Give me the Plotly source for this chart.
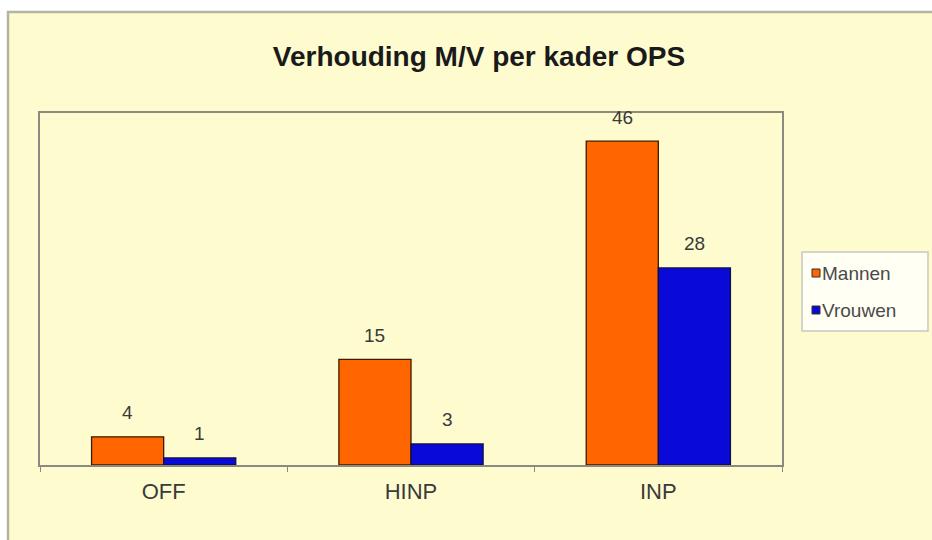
import plotly.graph_objects as go

categories = ["OFF", "HINP", "INP"]
mannen = [4, 15, 46]
vrouwen = [1, 3, 28]
series_names = ["Mannen", "Vrouwen"]
title_text = "Verhouding M/V per kader OPS"

ORANGE = "#FF6600"
BLUE = "#0A0AD8"
BG = "#FEFCCF"
FONT = "Liberation Sans"

W, H = 932, 540
L, R, T, B = 40, 150, 113, 75
pw, ph = W - L - R, H - T - B


def px_x(x):
    return (x - L) / pw


def px_y(y):
    return ((H - B) - y) / ph


fig = go.Figure()
fig.add_trace(go.Bar(name=series_names[0], x=categories, y=mannen,
                     marker=dict(color=ORANGE, line=dict(color="#3a1a00", width=1.3))))
fig.add_trace(go.Bar(name=series_names[1], x=categories, y=vrouwen,
                     marker=dict(color=BLUE, line=dict(color="#101040", width=1.3))))

# value labels above each bar
bar_px = (1 - 0.417) * pw / len(categories) / 2
annotations = []
for vals, shift in ((mannen, -bar_px / 2), (vrouwen, bar_px / 2)):
    for c, v in zip(categories, vals):
        annotations.append(dict(x=c, y=v, xref="x", yref="y", text=str(v), showarrow=False,
                                xshift=shift, yshift=24, yanchor="middle",
                                font=dict(size=19, color="#3a3a3a", family=FONT)))

# background panel and custom legend (box, swatches, labels)
shapes = [
    dict(type="rect", xref="paper", yref="paper", layer="below",
         x0=px_x(8), x1=px_x(W + 6), y0=px_y(H + 6), y1=px_y(12),
         fillcolor=BG, line=dict(color="#B4B4A4", width=2.5)),
    dict(type="rect", xref="paper", yref="paper",
         x0=px_x(802), x1=px_x(928), y0=px_y(331), y1=px_y(252),
         fillcolor="#FFFFF4", line=dict(color="#C8C8C0", width=1.5)),
]
for name, col, yc in ((series_names[0], ORANGE, 273), (series_names[1], BLUE, 310)):
    shapes.append(dict(type="rect", xref="paper", yref="paper",
                       x0=px_x(812), x1=px_x(820), y0=px_y(yc + 4), y1=px_y(yc - 4),
                       fillcolor=col, line=dict(color="#303030", width=1)))
    annotations.append(dict(x=px_x(820), y=px_y(yc), xref="paper", yref="paper", text=name,
                            showarrow=False, xanchor="left", yanchor="middle",
                            font=dict(size=19, color="#4a4a4a", family=FONT)))

fig.update_layout(
    width=W, height=H,
    margin=dict(l=L, r=R, t=T, b=B),
    paper_bgcolor="white", plot_bgcolor=BG,
    barmode="group", bargap=0.417, bargroupgap=0,
    title=dict(text="<b>" + title_text + "</b>", x=479 / W, xanchor="center", y=1 - 56 / H, yanchor="middle",
               font=dict(size=28, color="#1a1a1a", family=FONT)),
    showlegend=False,
    shapes=shapes,
    annotations=annotations,
)
fig.update_xaxes(showline=True, linecolor="#8a8a80", linewidth=2, mirror=True,
                 ticks="outside", tickson="boundaries", ticklen=5, tickcolor="#8a8a80",
                 ticklabelstandoff=6,
                 tickfont=dict(size=22, color="#3a3a3a", family=FONT), showgrid=False)
fig.update_yaxes(range=[0, 50], showline=True, linecolor="#8a8a80", linewidth=2, mirror=True,
                 showticklabels=False, showgrid=False, zeroline=False, ticks="")

fig.write_html("out.html", config={"displayModeBar": False},
               post_script="document.body.style.margin='0';")
